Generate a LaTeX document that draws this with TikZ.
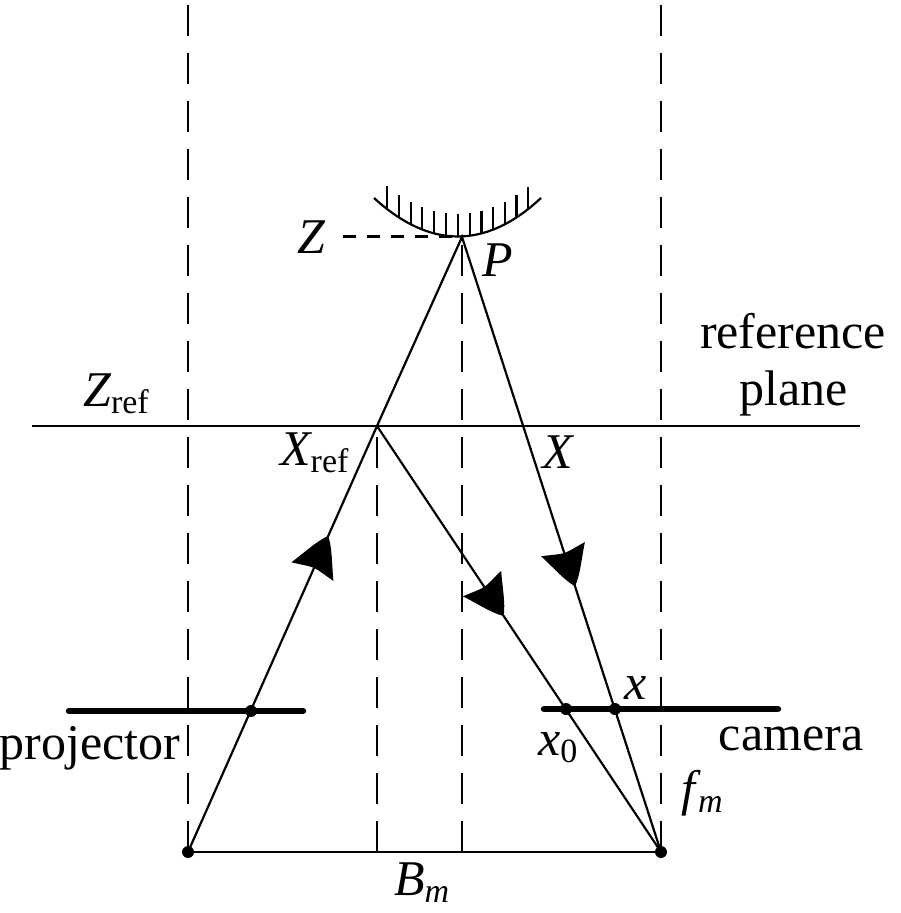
\documentclass[tikz,border=0pt]{standalone}
\usepackage{fontspec}
\setmainfont{Liberation Serif}
\newcommand{\lab}[1]{{\itshape #1}}
\newcommand{\subs}[1]{\raisebox{-0.15em}{\fontsize{34}{34}\selectfont #1}}
\tikzset{
  thin line/.style={line width=2.2pt},
  guide/.style={line width=2.2pt,dash pattern=on 31pt off 17pt},
  sensor/.style={line width=6.5pt,line cap=round},
  txt/.style={font=\fontsize{50}{50}\selectfont,inner sep=0pt,text=black},
  pt/.style={circle,fill=black,inner sep=0pt,minimum size=12pt},
  head/.pic={\fill[black] (20,0) .. controls (10,9) and (-5,15) .. (-19,23) .. controls (-17,12) and (-15,5) .. (-15,0) .. controls (-15,-5) and (-17,-12) .. (-19,-23) .. controls (-5,-15) and (10,-9) .. (20,0) -- cycle;}
}
\begin{document}
\begin{tikzpicture}[x=1pt,y=-1pt]
\useasboundingbox (0,0) rectangle (900,913);
\clip (0,0) rectangle (900,913);
% points
\coordinate (A) at (188,852);
\coordinate (F) at (661,852);
\coordinate (Xr) at (377,426);
\coordinate (P) at (462,237);
\coordinate (M) at (462,852);
\coordinate (N) at (377,852);
\coordinate (T1) at (188,-43.3);
\coordinate (T2) at (661,-43.3);
\coordinate (T3) at (462,236);
\coordinate (T4) at (377,426);
\coordinate (RL) at (32,426);
\coordinate (RR) at (860,426);
\coordinate (PL) at (69,711);
\coordinate (PR) at (303,711);
\coordinate (CL) at (544,709);
\coordinate (CR) at (778,709);
\coordinate (ZL) at (343,236.5);
\coordinate (ZR) at (456,236.5);
\coordinate (SL) at (374,198);
\coordinate (SA) at (430,249.3);
\coordinate (SB) at (486,249.3);
\coordinate (SR) at (541,198);
% guides
\draw[guide] (T1) -- (A);
\draw[guide] (T2) -- (F);
\draw[guide] (M) -- (T3);
\draw[guide] (N) -- (T4);
\draw[line width=2.2pt,dash pattern=on 13pt off 11pt] (ZL) -- (ZR);
% reference plane and base
\draw[thin line] (RL) -- (RR);
\draw[thin line] (A) -- (F);
% rays
\draw[thin line] (A) -- (Xr) -- (P) -- (F);
\draw[thin line] (Xr) -- (F);
\path (A) -- (Xr) pic[pos=0.699,sloped,allow upside down]{head};
\path (Xr) -- (F) pic[pos=0.407,sloped,allow upside down]{head};
\path (P) -- (F) pic[pos=0.537,sloped,allow upside down]{head};
% sensors
\draw[sensor] (PL) -- (PR);
\draw[sensor] (CL) -- (CR);
\node[pt] (d1) at (251,711) {};
\node[pt] (d2) at (566,709) {};
\node[pt] (d3) at (615,709) {};
\node[pt] (d4) at (A) {};
\node[pt] (d5) at (F) {};
% surface
\draw[thin line] (SL) .. controls (SA) and (SB) .. (SR);
\foreach \x in {386.7,398.7,410.7,422.3,434,446,457.7,469.7,481.5,493.3,505,516.5,528.3}{
  \pgfmathsetmacro{\yb}{236-38*((\x-458)/83.5)^2}
  \draw[thin line] (\x,\yb) -- (\x,\yb-22);
}
% labels
\node[txt] (tZ) at (311,237) {\lab{Z}};
\node[txt] (tP) at (498,260) {\lab{P}};
\node[txt] (tr) at (793,331) {reference};
\node[txt] (tp) at (794,393) {plane};
\node[txt,anchor=base west] (tZr) at (83,406) {\lab{Z}\subs{ref}};
\node[txt,anchor=base west] (tXr) at (280,465) {\lab{X}\subs{ref}};
\node[txt] (tX) at (558,452) {\lab{X}};
\node[txt] (tpr) at (90,748) {projector};
\node[txt] (tc) at (791,739) {camera};
\node[txt] (tx) at (636,688) {\lab{x}};
\node[txt,anchor=base west] (tx0) at (538,755) {\lab{x}\subs{0}};
\node[txt,anchor=base west] (tf) at (681,805) {\lab{f}\kern3pt\subs{\itshape m}};
\node[txt,anchor=base west] (tB) at (394,895) {\lab{B}\subs{\itshape m}};
\end{tikzpicture}
\end{document}
